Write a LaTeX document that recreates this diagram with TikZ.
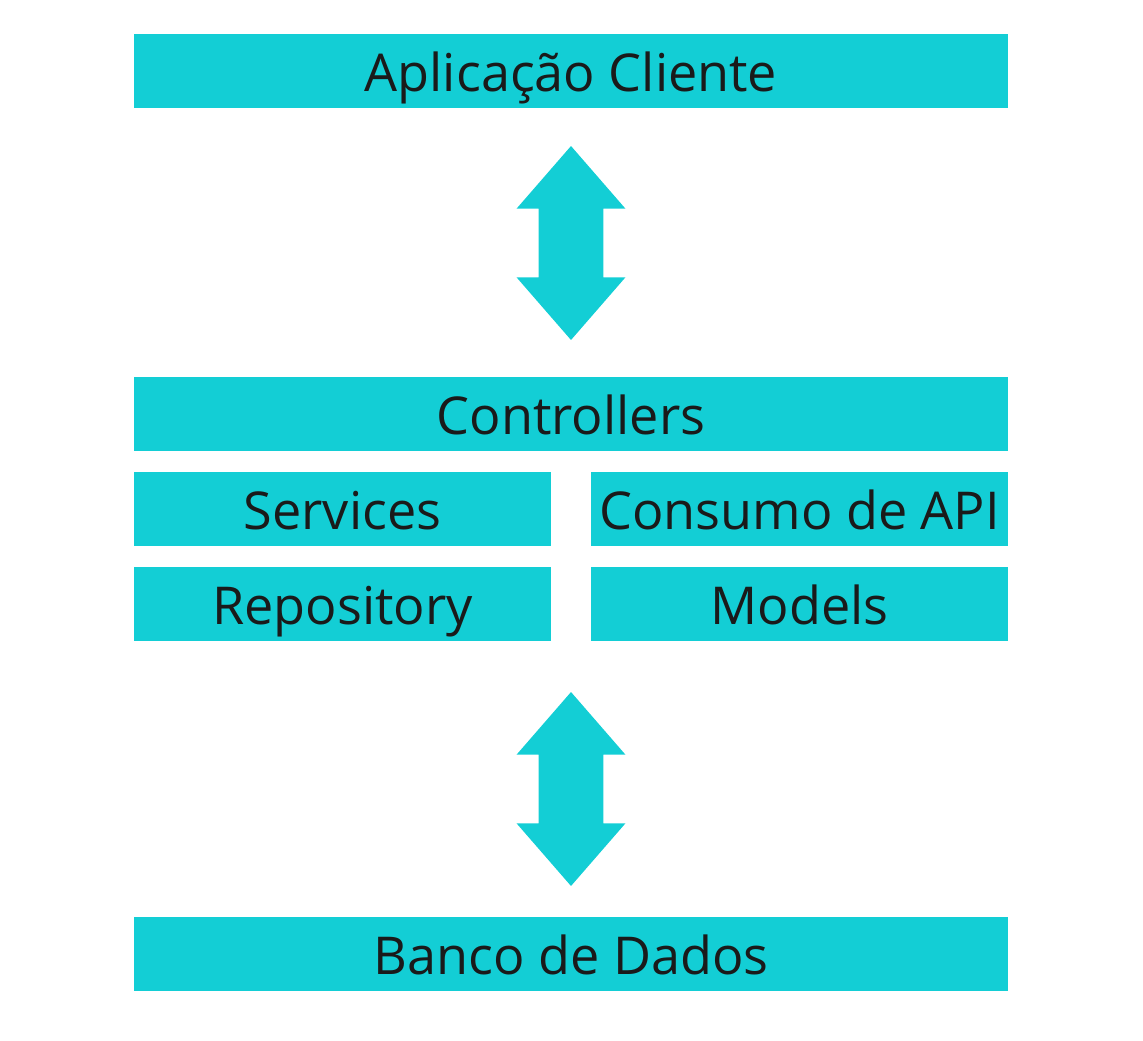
\documentclass[tikz,border=0pt]{standalone}
\usepackage{fontspec}
\setmainfont{Open Sans}
\usetikzlibrary{shapes.arrows}
\definecolor{camada}{HTML}{13CED5}
\definecolor{texto}{HTML}{1A1A1A}
\tikzset{
  layer/.style={fill=camada,draw=none,inner sep=0pt,minimum height=1.48cm,
    minimum width=#1,text=texto,font=\fontsize{29.7}{36}\selectfont,
    text height=0.82cm,text depth=0pt},
  layer/.default=17.48cm,
  flow/.style={double arrow,fill=camada,draw=none,inner xsep=0pt,inner ysep=0.64cm,
    rotate=90,minimum width=2.16cm,minimum height=3.88cm,
    double arrow head extend=0.44cm,double arrow tip angle=82}
}

\begin{document}
\begin{tikzpicture}[x=0.02cm,y=-0.02cm]
    \useasboundingbox (0,0) rectangle (1143,1041);

    \node [layer] (cliente) at (571,71) {Aplicação Cliente};

    \node [layer] (controllers) at (571,414) {Controllers};
    \node [layer=8.34cm] (services) at (342.5,509) {Services};
    \node [layer=8.34cm] (api) at (799.5,509) {Consumo de API};
    \node [layer=8.34cm] (repository) at (342.5,604) {Repository};
    \node [layer=8.34cm] (models) at (799.5,604) {Models};

    \node [layer] (banco) at (571,954) {Banco de Dados};

    % setas entre as camadas
    \node [flow] (seta1) at (571,243) {};
    \node [flow] (seta2) at (571,789) {};
\end{tikzpicture}
\end{document}
